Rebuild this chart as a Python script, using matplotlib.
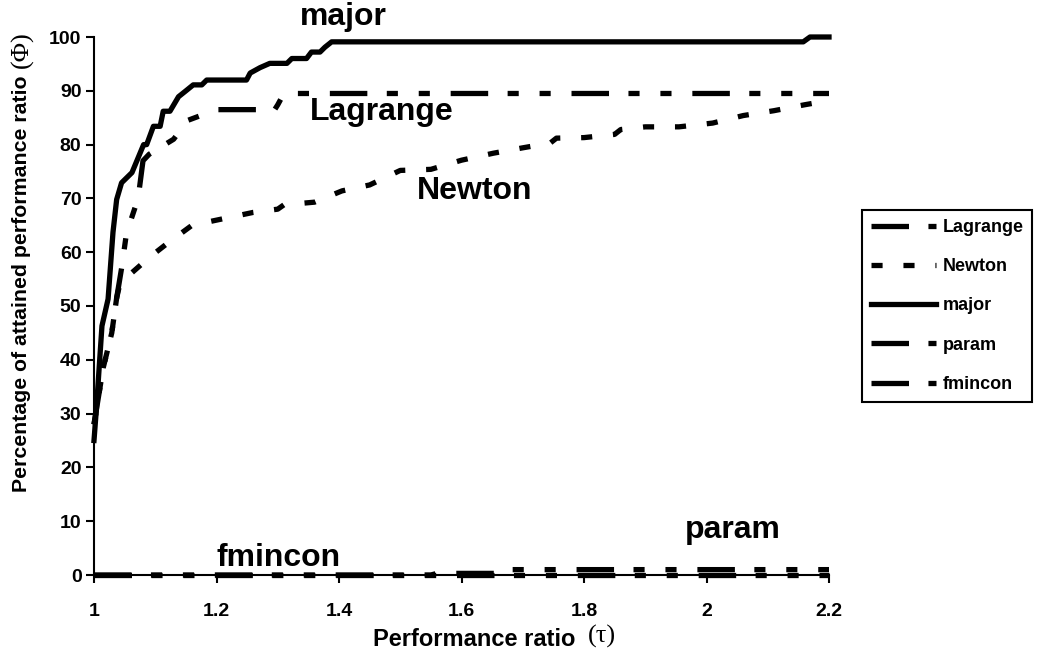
import matplotlib.pyplot as plt

plt.rcParams['font.family'] = ['Liberation Sans', 'DejaVu Sans']
plt.rcParams['font.weight'] = 'bold'
plt.rcParams['lines.scale_dashes'] = False

# performance profiles
major_x = [1.0, 1.004, 1.013, 1.023, 1.031, 1.037, 1.045, 1.062, 1.081, 1.086, 1.097,
           1.108, 1.113, 1.124, 1.138, 1.149, 1.162, 1.176, 1.184, 1.249, 1.255, 1.271,
           1.287, 1.315, 1.323, 1.347, 1.355, 1.369, 1.377, 1.388, 2.158, 2.169, 2.2]
major_y = [25, 31, 46.3, 51.3, 63.7, 69.8, 72.9, 74.8, 80, 80, 83.4,
           83.4, 86.2, 86.2, 88.9, 89.9, 91.1, 91.1, 92, 92, 93.3, 94.3,
           95.1, 95.1, 96, 96, 97.2, 97.2, 98.1, 99.1, 99.1, 100, 100]

lagrange_x = [1.0, 1.015, 1.029, 1.037, 1.045, 1.053, 1.072, 1.08, 1.09, 1.12, 1.13,
              1.153, 1.2, 1.295, 1.30, 1.31, 2.2]
lagrange_y = [28, 38.5, 45, 51.5, 57, 63.5, 70, 77, 78.2, 80.3, 81,
              84.5, 86.5, 86.5, 87.4, 89.5, 89.5]

newton_x = [1.0, 1.015, 1.029, 1.037, 1.042, 1.06, 1.075, 1.09, 1.117, 1.16, 1.21,
            1.26, 1.30, 1.31, 1.36, 1.405, 1.45, 1.5, 1.55, 1.60, 1.652, 1.70,
            1.745, 1.755, 1.80, 1.85, 1.86, 1.90, 1.955, 2.01, 2.06, 2.11, 2.16, 2.2]
newton_y = [28, 38.5, 45, 51.5, 54, 56, 57.5, 59, 61.4, 65, 66.2,
            67.4, 68, 68.8, 69.3, 71.4, 72.5, 75.2, 75.4, 77.1, 78.4, 79.4,
            80.3, 81.2, 81.3, 81.9, 82.8, 83.3, 83.3, 84, 85.4, 86.3, 87.4, 88.2]

param_x = [1.0, 1.55, 1.56, 1.66, 1.68, 2.2]
param_y = [0, 0, 0.3, 0.3, 1.0, 1.0]

fmincon_x = [1.0, 2.2]
fmincon_y = [0, 0]

x_ticks = [1, 1.2, 1.4, 1.6, 1.8, 2, 2.2]
x_tick_labels = ['1', '1.2', '1.4', '1.6', '1.8', '2', '2.2']
y_ticks = [0, 10, 20, 30, 40, 50, 60, 70, 80, 90, 100]

W, H = 1037, 659
fig = plt.figure(figsize=(W / 100, H / 100), dpi=100)
ax = fig.add_axes([94 / W, 1 - 575 / H, (829 - 94) / W, (575 - 37) / H])

dash_dot_dot = (0, (27, 14, 8, 15, 8, 15))
short_dash = (0, (8, 15))
lw = 3.8

ax.plot(lagrange_x, lagrange_y, color='black', lw=lw, ls=dash_dot_dot, label='Lagrange', clip_on=False)
ax.plot(newton_x, newton_y, color='black', lw=lw, ls=short_dash, label='Newton', clip_on=False)
ax.plot(major_x, major_y, color='black', lw=lw, ls='-', label='major', clip_on=False)
ax.plot(param_x, param_y, color='black', lw=lw, ls=dash_dot_dot, label='param', clip_on=False)
ax.plot(fmincon_x, fmincon_y, color='black', lw=lw, ls=dash_dot_dot, label='fmincon', clip_on=False)

ax.set_xlim(1, 2.2)
ax.set_ylim(0, 100)
ax.set_xticks(x_ticks)
ax.set_xticklabels(x_tick_labels)
ax.set_yticks(y_ticks)
for side in ['top', 'right']:
    ax.spines[side].set_visible(False)
for side in ['left', 'bottom']:
    ax.spines[side].set_linewidth(1.5)
ax.tick_params(direction='out', length=6, width=1.5, labelsize=14)
ax.tick_params(axis='x', pad=14)
ax.tick_params(axis='y', pad=3)

# curve names inside the plot
txt = dict(fontsize=23, fontweight='bold', ha='left', va='baseline')
ax.text(1.336, 102.2, 'major', **txt)
ax.text(1.353, 84.6, 'Lagrange', **txt)
ax.text(1.527, 69.8, 'Newton', **txt)
ax.text(1.965, 6.9, 'param', **txt)
ax.text(1.2, 1.6, 'fmincon', **txt)

# axis labels, greek part in serif
fig.text(373 / W, 1 - 640 / H, 'Performance ratio', fontsize=17, fontweight='bold',
         ha='left', va='center')
fig.text(588 / W, 1 - 636 / H, '(τ)', fontsize=19, fontweight='normal',
         family='Liberation Serif', ha='left', va='center')
fig.text(22 / W, 1 - 492 / H, 'Percentage of attained performance ratio', fontsize=15.3,
         fontweight='bold', rotation=90, ha='center', va='bottom')
fig.text(22 / W, 1 - 68 / H, '(Φ)', fontsize=19, fontweight='normal',
         family='Liberation Serif', rotation=90, ha='center', va='bottom')

leg = ax.legend(loc='upper left', bbox_to_anchor=(862 / W, 1 - 210 / H),
                bbox_transform=fig.transFigure, borderaxespad=0, fontsize=13,
                handlelength=3.6, handletextpad=0.35, labelspacing=1.23, borderpad=0.5,
                fancybox=False, framealpha=1, edgecolor='black')
leg.get_frame().set_linewidth(1.5)

fig.savefig('out.png', dpi=100)
